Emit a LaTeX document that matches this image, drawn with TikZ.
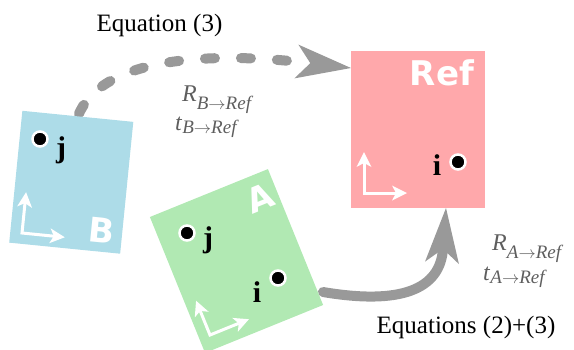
\documentclass[tikz,border=0pt]{standalone}
\usepackage{fontspec}
\setmainfont{Liberation Serif}
\newfontfamily\sansbold{DejaVu Sans}
\usetikzlibrary{arrows.meta,calc}
\definecolor{refpink}{HTML}{FFA8AB}
\definecolor{bblue}{HTML}{ADDCE8}
\definecolor{agreen}{HTML}{B1E9B3}
\definecolor{arrgray}{HTML}{999999}
\definecolor{labgray}{HTML}{5E5E5E}
\newcommand{\trsub}[3]{\textit{#1}\raisebox{-#3pt}{\fontsize{19}{19}\selectfont\textit{#2}$\rightarrow$\textit{Ref}}}
\pgfdeclarelayer{background}
\pgfsetlayers{background,main}
\begin{document}
\begin{tikzpicture}[x=1pt,y=-1pt,
  framebox/.style={draw=none, inner sep=0pt, outer sep=0pt},
  dotmark/.style={circle, fill=black, draw=white, line width=2.5pt, minimum size=15pt, inner sep=0pt},
  ptlabel/.style={font=\fontsize{30}{30}\selectfont\bfseries, anchor=base, inner sep=0pt},
  framename/.style={font=\sansbold\fontsize{34}{34}\selectfont\bfseries, text=white, inner sep=0pt},
  axisline/.style={draw=white, line width=3pt, line join=miter,
     {Stealth[length=15pt,width=15pt,inset=4pt,line width=0pt]}-{Stealth[length=15pt,width=15pt,inset=4pt,line width=0pt]}},
  bigarrow/.style={draw=arrgray, line width=10pt, line cap=round,
     -{Stealth[length=55pt,width=34pt,inset=14pt,line width=0pt]}},
  eqtext/.style={font=\fontsize{25}{25}\selectfont, anchor=base, inner sep=0pt},
  trlabel/.style={font=\fontsize{24}{24}\selectfont, text=labgray, anchor=base west, inner sep=0pt}]
\useasboundingbox (0,0) rectangle (574,349);
\clip (0,0) rectangle (574,349);

% frames
\node[framebox, fill=refpink, minimum width=134pt, minimum height=157pt] (refbox) at (418,129.5) {};
\node[framebox, fill=bblue, minimum width=111.5pt, minimum height=132.5pt, rotate=-5.7] (bbox) at (71.25,182.25) {};
\node[framebox, fill=agreen, minimum width=127.4pt, minimum height=146.7pt, rotate=22.1] (abox) at (236.5,261) {};

% frame names
\node[framename] (refname) at (442,72.5) {Ref};
\node[framename, rotate=-5.7] (bname) at (102,230) {B};
\node[framename, rotate=22.1] (aname) at (260,198) {A};

% axes
\begin{scope}[shift={(364,193)}]
  \draw[axisline] (0,-41) -- (0,0) -- (43,0);
\end{scope}
\begin{scope}[shift={(22,233)}, rotate=-5.7]
  \draw[axisline] (0,-41) -- (0,0) -- (43,0);
\end{scope}
\begin{scope}[shift={(210,335)}, rotate=22.1]
  \draw[axisline] (0,-37) -- (0,0) -- (42,0);
\end{scope}

% points
\node[dotmark] (refi) at (458,162) {};
\node[ptlabel] (refilab) at (437,175) {i};
\node[dotmark] (bj) at (40,139) {};
\node[ptlabel] (bjlab) at (61,157) {j};
\node[dotmark] (aj) at (187,233) {};
\node[ptlabel] (ajlab) at (208,247) {j};
\node[dotmark] (ai) at (278,278) {};
\node[ptlabel] (ailab) at (257,302) {i};

% texts
\node[eqtext] (eq3) at (159.5,31) {Equation (3)};
\node[eqtext] (eq23) at (466,333) {Equations (2)+(3)};
\node[trlabel] (rb) at (182,101) {\trsub{R}{B}{8}};
\node[trlabel] (tb) at (175,130) {\trsub{t}{B}{3}};
\node[trlabel] (ra) at (492,250) {\trsub{R}{A}{8}};
\node[trlabel] (ta) at (483,280) {\trsub{t}{A}{3}};

% connectors
\coordinate (dashend) at ($(refbox.north west)+(0,17)$);
\coordinate (astart) at (323,292);
\coordinate (solidend) at ($(refbox.south west)+(95,0)$);
\begin{pgfonlayer}{background}
  \draw[bigarrow, dash pattern=on 10pt off 26pt, dash phase=33pt] (bbox.north) .. controls (100,60) and (200,50) .. (dashend);
  \draw[bigarrow] (astart) .. controls (400,305) and (440,290) .. (solidend);
\end{pgfonlayer}
\end{tikzpicture}
\end{document}
